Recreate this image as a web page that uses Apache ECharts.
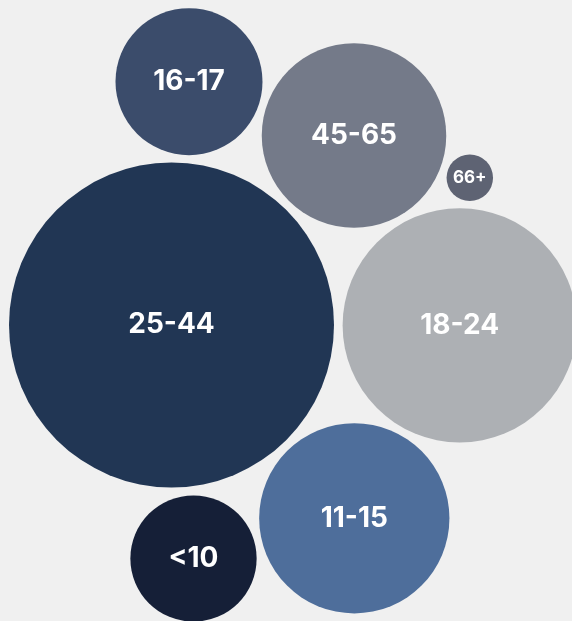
<!DOCTYPE html>
<html>
<head>
<meta charset="utf-8">
<script src="https://cdn.jsdelivr.net/npm/echarts@6/dist/echarts.min.js"></script>
<style>
html,body{margin:0;padding:0;background:#f0f0f0;}
#chart{width:572px;height:621px;}
</style>
</head>
<body>
<div id="chart"></div>
<script>
// Age groups and their share (bubble area proportional to value)
var categories = ['25-44', '18-24', '11-15', '45-65', '16-17', '<10', '66+'];
var values = [39.1, 20.3, 13.4, 12.6, 8.0, 5.9, 0.8];
// packed-bubble layout position of each bubble centre (layout units)
var layoutX = [171.5, 459.7, 354.3, 354.0, 189.0, 193.5, 469.8];
var layoutY = [325.0, 325.3, 518.3, 135.5, 81.7, 558.5, 177.8];

var colors = ['#213654', '#adb0b4', '#4e6e9b', '#747a89', '#3b4c6b', '#151f37', '#5e6373'];

var maxVal = Math.max.apply(null, values);
var maxDiameter = 325;

var data = categories.map(function (c, i) {
  return {
    name: c,
    value: [layoutX[i], layoutY[i], values[i]],
    itemStyle: { color: colors[i], opacity: 1 },
    label: { fontSize: values[i] < 2 ? 17 : 28 }
  };
});

var chart = echarts.init(document.getElementById('chart'));
chart.setOption({
  backgroundColor: '#f0f0f0',
  animation: false,
  grid: { left: 0, right: 0, top: 0, bottom: 0 },
  xAxis: { type: 'value', min: 0, max: 572, show: false },
  yAxis: { type: 'value', min: 0, max: 621, inverse: true, show: false },
  series: [{
    type: 'scatter',
    symbol: 'circle',
    symbolSize: function (v) { return maxDiameter * Math.sqrt(v[2] / maxVal); },
    data: data,
    label: {
      show: true,
      position: 'inside',
      formatter: '{b}',
      color: '#ffffff',
      fontFamily: 'Inter',
      fontWeight: 'bold'
    },
    emphasis: { disabled: true }
  }]
});
</script>
</body>
</html>
